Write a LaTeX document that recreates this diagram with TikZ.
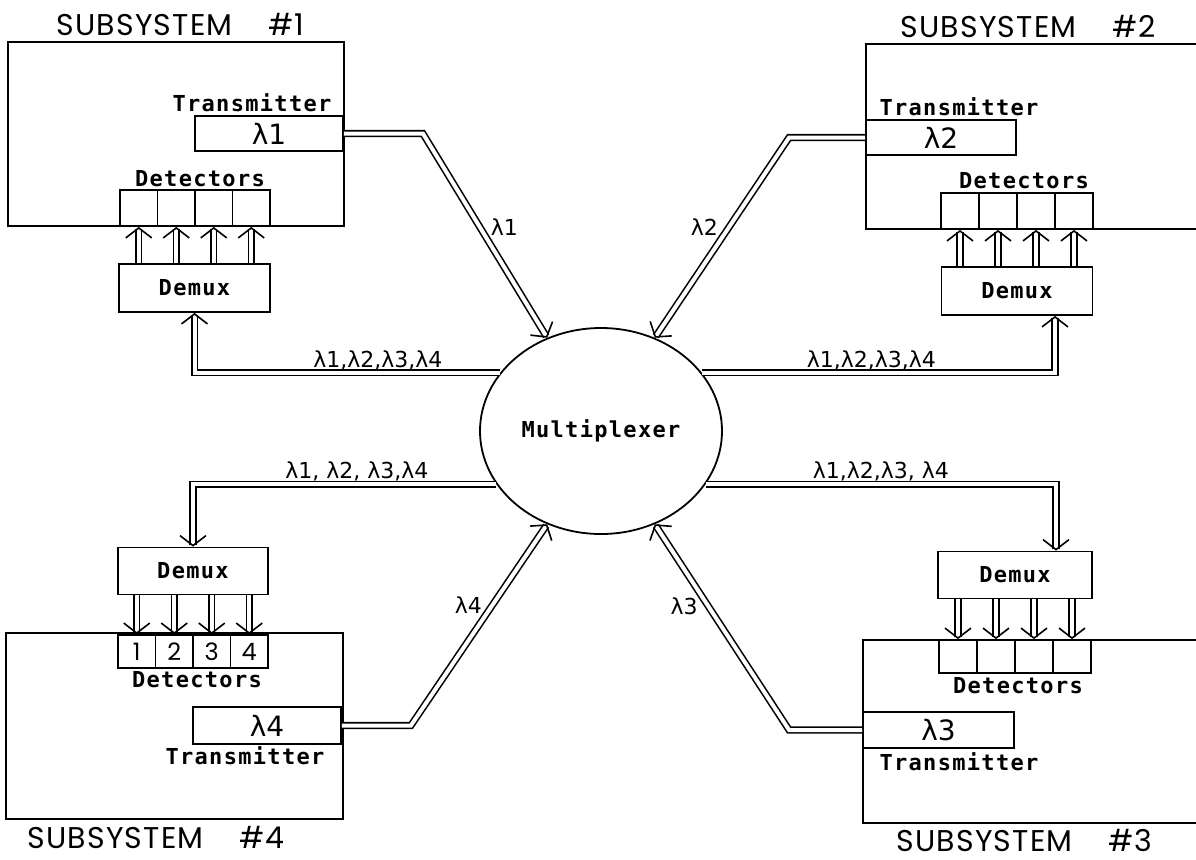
\documentclass[tikz,border=0pt]{standalone}
\usepackage{fontspec}
\newfontfamily\sysfont{Poppins}[LetterSpace=4]
\newfontfamily\digfont{Poppins}
\newfontfamily\labfont{DejaVu Sans Mono}[LetterSpace=6]
\newfontfamily\lamfont{DejaVu Sans}
\usetikzlibrary{positioning, arrows.meta, calc, shapes.geometric}
\tikzset{
	box/.style={draw, line width=0.9pt, inner sep=0pt},
	fiber/.style={draw, line width=0.8pt, double, double distance=2pt, -{Straight Barb[length=5pt, width=13pt]}},
	lbl/.style={font=\labfont\bfseries\fontsize{11}{13}\selectfont, inner sep=0pt},
	lam/.style={font=\lamfont\fontsize{11}{13}\selectfont, inner sep=1pt},
	biglam/.style={font=\lamfont\fontsize{14}{16}\selectfont},
	sys/.style={font=\sysfont\fontsize{15}{17}\selectfont, inner sep=0pt, anchor=base west},
}

\begin{document}
\begin{tikzpicture}[x=0.5pt, y=-0.5pt]
	\useasboundingbox (0,0) rectangle (1196,859);
	
	\node[draw, ellipse, line width=0.9pt, minimum width=121pt, minimum height=103pt, lbl] (MUX) at (601,431) {Multiplexer};
	
	% subsystem 1
	\node[box, minimum width=168pt, minimum height=92pt] (SUB1) at (176,134) {};
	\node[sys] (NAME1) at (56,35) {SUBSYSTEM\hspace{18pt}\#1};
	\node[box, minimum width=74pt, minimum height=17.5pt, biglam] (TX1) at (269,133.5) {λ1};
	\node[lbl] (TXL1) at (252,103) {Transmitter};
	\foreach \i in {1,...,4}
		\node[box, minimum width=18.75pt, minimum height=18pt] (D1\i) at ({101.25+37.5*\i},208) {};
	\node[lbl] (DL1) at (200,179) {Detectors};
	\node[box, minimum width=75.5pt, minimum height=24pt, lbl] (DM1) at (194.5,288) {Demux};
	\foreach \i in {1,...,4}
		\draw[fiber] (D1\i.south |- DM1.north) -- (D1\i.south);
	
	% subsystem 2
	\draw[box] (1196,44) -| (866,229) -- (1196,229);
	\node[sys] (NAME2) at (900,37) {SUBSYSTEM\hspace{18pt}\#2};
	\node[box, minimum width=75pt, minimum height=17.5pt, biglam] (TX2) at (941,137.5) {λ2};
	\node[lbl] (TXL2) at (959,107) {Transmitter};
	\foreach \i in {1,...,4}
		\node[box, minimum width=19pt, minimum height=18pt] (D2\i) at ({922+38*\i},211) {};
	\node[lbl] (DL2) at (1024,181) {Detectors};
	\node[box, minimum width=75.5pt, minimum height=24pt, lbl] (DM2) at (1017,291) {Demux};
	\foreach \i in {1,...,4}
		\draw[fiber] (D2\i.south |- DM2.north) -- (D2\i.south);
	
	% subsystem 4
	\node[box, minimum width=168.5pt, minimum height=93pt] (SUB4) at (174.5,726) {};
	\node[sys] (NAME4) at (27,848) {SUBSYSTEM\hspace{18pt}\#4};
	\node[box, minimum width=74pt, minimum height=18.5pt, biglam] (TX4) at (267,725.5) {λ4};
	\node[lbl] (TXL4) at (245,756) {Transmitter};
	\foreach \n [count=\i] in {1,2,3,4}
		\node[box, minimum width=18.75pt, minimum height=16.5pt, font=\digfont\fontsize{12}{14}\selectfont] (D4\i) at ({99.25+37.5*\i},651.5) {\n};
	\node[lbl] (DL4) at (197,680) {Detectors};
	\node[box, minimum width=75pt, minimum height=23.5pt, lbl] (DM4) at (193,571) {Demux};
	\foreach \i in {1,...,4}
		\draw[fiber] (D4\i.north |- DM4.south) -- (D4\i.north);
	
	% subsystem 3
	\draw[box] (1196,640) -| (863,823) -- (1196,823);
	\node[sys] (NAME3) at (896,851) {SUBSYSTEM\hspace{18pt}\#3};
	\node[box, minimum width=75.5pt, minimum height=18pt, biglam] (TX3) at (938.5,730) {λ3};
	\node[lbl] (TXL3) at (959,762) {Transmitter};
	\foreach \i in {1,...,4}
		\node[box, minimum width=19pt, minimum height=16.5pt] (D3\i) at ({920+38*\i},656.5) {};
	\node[lbl] (DL3) at (1018,686) {Detectors};
	\node[box, minimum width=77pt, minimum height=23.5pt, lbl] (DM3) at (1015,575) {Demux};
	\foreach \i in {1,...,4}
		\draw[fiber] (D3\i.north |- DM3.south) -- (D3\i.north);
	
	% fibres to and from the multiplexer
	\draw[fiber] (TX1.east) -- ++(79,0) -- node[lam, pos=0.46, right=4pt] {λ1} (MUX.120);
	\draw[fiber] (TX2.west) -- ++(-76,0) -- node[lam, pos=0.45, left=4pt] {λ2} (MUX.60);
	\draw[fiber] (TX4.east) -- ++(69,0) -- node[lam, pos=0.6, left=4pt] {λ4} (MUX.240);
	\draw[fiber] (TX3.west) -- ++(-73,0) -- node[lam, pos=0.6, left=4pt] {λ3} (MUX.300);
	\draw[fiber] (MUX.150) -| node[lam, pos=0.2, above] {λ1,λ2,λ3,λ4} (DM1.south);
	\draw[fiber] (MUX.30) -| node[lam, pos=0.24, above] {λ1,λ2,λ3,λ4} ([xshift=19pt]DM2.south);
	\draw[fiber] (MUX.207) -| node[lam, pos=0.23, above] {λ1, λ2, λ3,λ4} (DM4.north);
	\draw[fiber] (MUX.333) -| node[lam, pos=0.25, above] {λ1,λ2,λ3, λ4} ([xshift=20.5pt]DM3.north);
\end{tikzpicture}
\end{document}
